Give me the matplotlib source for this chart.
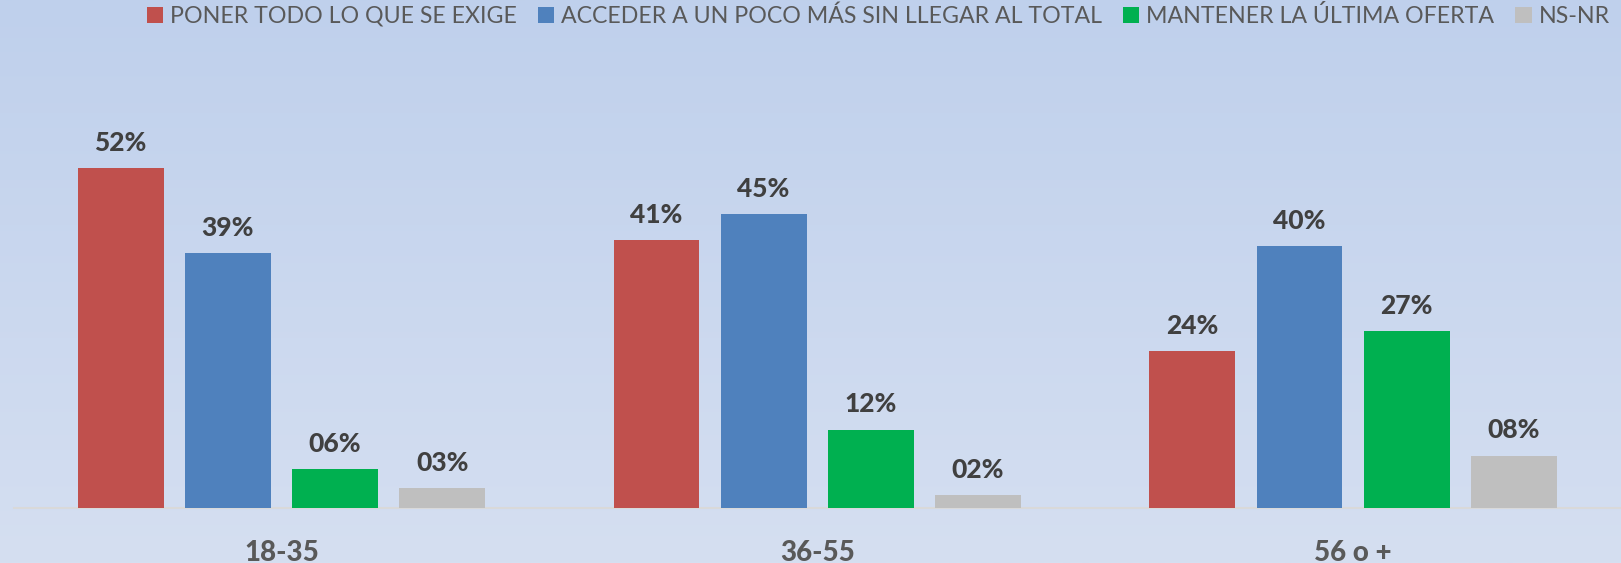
import matplotlib
matplotlib.use("Agg")
import matplotlib.pyplot as plt
import numpy as np
from matplotlib.patches import Patch
from matplotlib.colors import LinearSegmentedColormap

categories = ["18-35", "36-55", "56 o +"]
series_names = ["PONER TODO LO QUE SE EXIGE", "ACCEDER A UN POCO MÁS SIN LLEGAR AL TOTAL",
                "MANTENER LA ÚLTIMA OFERTA", "NS-NR"]
poner = [52, 41, 24]
acceder = [39, 45, 40]
mantener = [6, 12, 27]
nsnr = [3, 2, 8]
colors = ["#c0504d", "#4f81bd", "#00b050", "#bfbfbf"]

W, H = 1621, 563
fig = plt.figure(figsize=(W / 100, H / 100), dpi=100)

# background gradient
bg = fig.add_axes([0, 0, 1, 1], zorder=-10)
cmap = LinearSegmentedColormap.from_list("bg", ["#d5dff1", "#bfd0ec"])
grad = np.linspace(0, 1, 256).reshape(-1, 1)
bg.imshow(grad, aspect="auto", cmap=cmap, origin="lower", extent=[0, 1, 0, 1])
bg.axis("off")

font = "Lato"
ax_left = 13.5 / W
ax_bottom = (H - 508) / H
ax = fig.add_axes([ax_left, ax_bottom, 1 - ax_left, 1 - ax_bottom])
ax.patch.set_alpha(0)
px_per_pct = 340 / 52
ax.set_ylim(0, 508 / px_per_pct)
ax.set_xlim(-0.5, 2.5)

x = np.arange(len(categories))
width = 0.16
step = 0.2
for i, (vals, c) in enumerate(zip([poner, acceder, mantener, nsnr], colors)):
    pos = x + (i - 1.5) * step
    bars = ax.bar(pos, vals, width=width, color=c, zorder=3)
    for b, v in zip(bars, vals):
        ax.annotate(f"{v:02d}%", (b.get_x() + b.get_width() / 2, v),
                    xytext=(0, 9.5), textcoords="offset points",
                    ha="center", va="bottom", fontsize=19, fontweight="black",
                    color="#404040", family=font)

for s in ["top", "right", "left"]:
    ax.spines[s].set_visible(False)
ax.spines["bottom"].set_color("#d9d9d9")
ax.spines["bottom"].set_linewidth(1.5)
ax.set_yticks([])
ax.set_xticks(x)
ax.set_xticklabels(categories, fontsize=20, fontweight="black", color="#595959", family=font)
ax.tick_params(axis="x", length=0, pad=23)

handles = [Patch(facecolor=c, edgecolor="none") for c in colors]
leg = fig.legend(handles, series_names, loc="upper right", bbox_to_anchor=(1.003, 1.02),
                 ncol=4, frameon=False, fontsize=16.7, handlelength=0.7, handleheight=0.7,
                 handletextpad=0.3, columnspacing=0.9, borderaxespad=0.3)
for t in leg.get_texts():
    t.set_color("#595959")
    t.set_family(font)

fig.savefig("out.png", dpi=100)
